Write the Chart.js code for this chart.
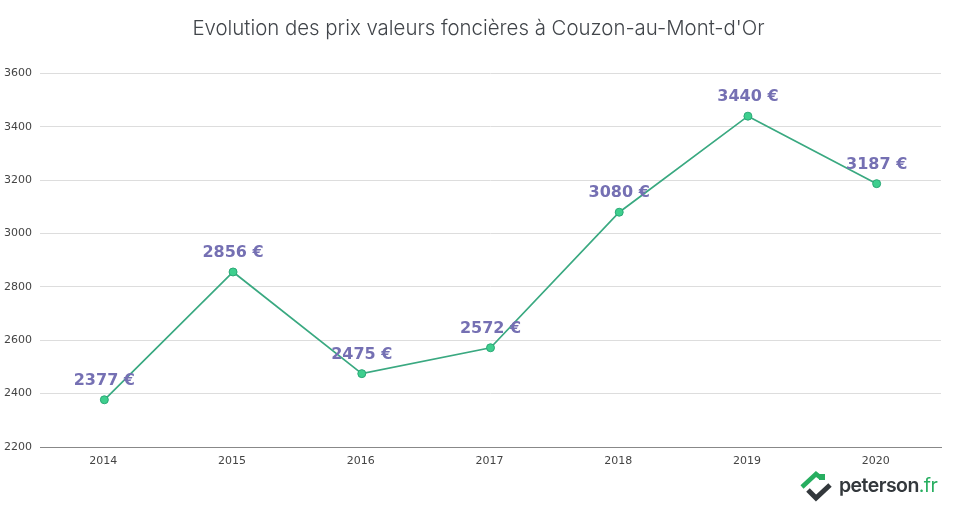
<!DOCTYPE html>
<html>
<head>
<meta charset="utf-8">
<title>Evolution des prix</title>
<script src="https://cdn.jsdelivr.net/npm/chart.js@4"></script>
<style>
  html, body { margin: 0; padding: 0; background: #fff; }
  #wrap { position: relative; width: 960px; height: 505px; overflow: hidden; }
  #logo { position: absolute; left: 800px; top: 470px; }
  #brand { position: absolute; left: 839px; top: 473px; font: 600 19.5px "Inter", sans-serif; letter-spacing: -0.55px; color: #33383c; }
  #brand span { color: #27ae60; font-weight: 400; }
</style>
</head>
<body>
<div id="wrap">
  <canvas id="priceChart" width="960" height="505"></canvas>
  <svg id="logo" width="36" height="34" viewBox="0 0 36 34">
    <path d="M2 17 L16 4 L21 8" fill="none" stroke="#27ae60" stroke-width="4.5"/>
    <rect x="19" y="4" width="6" height="6" fill="#27ae60"/>
    <path d="M8 20 L16 28 L30 15" fill="none" stroke="#33383c" stroke-width="5"/>
  </svg>
  <div id="brand">peterson<span>.fr</span></div>
</div>
<script>
const years = ["2014", "2015", "2016", "2017", "2018", "2019", "2020"];
const prices = [2377, 2856, 2475, 2572, 3080, 3440, 3187];
const pageTitle = "Evolution des prix valeurs foncières à Couzon-au-Mont-d'Or";

const ctx = document.getElementById("priceChart").getContext("2d");

// price labels above each point
const priceLabels = {
  id: "priceLabels",
  afterDatasetsDraw(chart) {
    const c = chart.ctx;
    const pts = chart.getDatasetMeta(0).data;
    c.save();
    c.font = "bold 16px 'DejaVu Sans'";
    c.fillStyle = "#7570b3";
    c.textAlign = "center";
    c.textBaseline = "alphabetic";
    pts.forEach((p, i) => {
      c.fillText(prices[i] + " €", p.x, p.y - 15);
    });
    c.restore();
  }
};

new Chart(ctx, {
  type: "line",
  data: {
    labels: years,
    datasets: [{
      data: prices,
      borderColor: "#3aa981",
      borderWidth: 1.7,
      tension: 0,
      fill: false,
      pointRadius: 4,
      pointBackgroundColor: "#3ecf8e",
      pointBorderColor: "#2aa876",
      pointBorderWidth: 1
    }]
  },
  options: {
    responsive: false,
    animation: false,
    layout: { padding: { top: 0, right: 3, bottom: 0, left: 0 } },
    plugins: {
      legend: { display: false },
      tooltip: { enabled: false },
      title: {
        display: true,
        text: pageTitle,
        color: "#41454a",
        font: { family: "Inter", size: 20.4, weight: "300" },
        padding: { top: 17, bottom: 32 }
      }
    },
    scales: {
      x: {
        offset: true,
        grid: { display: false, offset: false },
        border: { color: "#888888" },
        ticks: { color: "#444444", font: { family: "DejaVu Sans", size: 11 }, padding: 0, labelOffset: -1, maxRotation: 0 },
        afterFit(scale) { scale.height = 58; scale.paddingRight = 19; }
      },
      y: {
        min: 2200,
        max: 3600,
        grid: { color: "#dddddd", drawTicks: false },
        border: { display: false },
        ticks: { stepSize: 200, color: "#444444", font: { family: "DejaVu Sans", size: 11 }, padding: 8, callback: v => String(v) },
        afterFit(scale) { scale.width = 40; }
      }
    }
  },
  plugins: [priceLabels]
});
</script>
</body>
</html>
